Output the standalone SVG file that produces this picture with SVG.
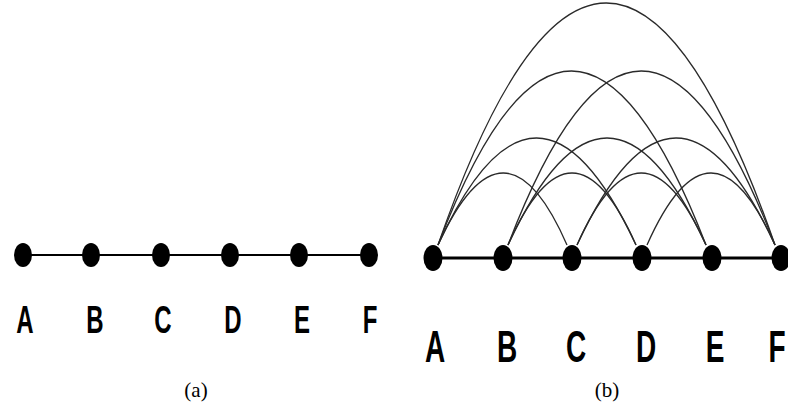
<svg xmlns="http://www.w3.org/2000/svg" width="788" height="407" viewBox="0 0 788 407">
<style>
.node{fill:#000}
.edge{stroke:#000;stroke-width:2;fill:none}
.arc{stroke:#2a2a2a;stroke-width:1.3;fill:none}
.lbl{font-family:"Liberation Sans",Arial,sans-serif;font-weight:bold;font-size:24px;text-anchor:middle;fill:#000}
.lbl2{font-family:"Liberation Sans",Arial,sans-serif;font-weight:bold;font-size:28px;text-anchor:middle;fill:#000}
.cap{font-family:"Liberation Serif","Times New Roman",serif;font-size:21px;text-anchor:middle;fill:#000}
</style>
<rect width="788" height="407" fill="#fff"/>
<g id="connectors">
<line class="edge" x1="23" y1="255" x2="369" y2="255"/>
<line class="edge" x1="433" y1="258" x2="781" y2="258" style="stroke-width:3"/>
<path class="arc" d="M438,245 Q504,101 567,245"/>
<path class="arc" d="M438,245 Q536,31 636,245"/>
<path class="arc" d="M438,245 Q571,-103 706,245"/>
<path class="arc" d="M438,245 Q606,-239 775,245"/>
<path class="arc" d="M508,245 Q572,101 636,245"/>
<path class="arc" d="M508,245 Q607,31 706,245"/>
<path class="arc" d="M508,245 Q641,-103 775,245"/>
<path class="arc" d="M577,245 Q641,101 706,245"/>
<path class="arc" d="M577,245 Q676,31 775,245"/>
<path class="arc" d="M647,245 Q711,101 775,245"/>
</g>
<g id="a-A"><ellipse class="node" cx="23" cy="255" rx="9" ry="12"/><text class="lbl" transform="translate(25,333) scale(1,1.63)">A</text></g>
<g id="a-B"><ellipse class="node" cx="91" cy="255" rx="9" ry="12"/><text class="lbl" transform="translate(95,333) scale(1,1.63)">B</text></g>
<g id="a-C"><ellipse class="node" cx="161" cy="255" rx="9" ry="12"/><text class="lbl" transform="translate(163,333) scale(1,1.63)">C</text></g>
<g id="a-D"><ellipse class="node" cx="230" cy="255" rx="9" ry="12"/><text class="lbl" transform="translate(233,333) scale(1,1.63)">D</text></g>
<g id="a-E"><ellipse class="node" cx="299" cy="255" rx="9" ry="12"/><text class="lbl" transform="translate(302,333) scale(1,1.63)">E</text></g>
<g id="a-F"><ellipse class="node" cx="369" cy="255" rx="9" ry="12"/><text class="lbl" transform="translate(370,333) scale(1,1.63)">F</text></g>
<g id="b-A"><ellipse class="node" cx="433" cy="258" rx="9.5" ry="13"/><text class="lbl2" transform="translate(435,362) scale(1,1.6)">A</text></g>
<g id="b-B"><ellipse class="node" cx="503" cy="258" rx="9.5" ry="13"/><text class="lbl2" transform="translate(507,362) scale(1,1.6)">B</text></g>
<g id="b-C"><ellipse class="node" cx="572" cy="258" rx="9.5" ry="13"/><text class="lbl2" transform="translate(576,362) scale(1,1.6)">C</text></g>
<g id="b-D"><ellipse class="node" cx="642" cy="258" rx="9.5" ry="13"/><text class="lbl2" transform="translate(646,362) scale(1,1.6)">D</text></g>
<g id="b-E"><ellipse class="node" cx="712" cy="258" rx="9.5" ry="13"/><text class="lbl2" transform="translate(715,362) scale(1,1.6)">E</text></g>
<g id="b-F"><ellipse class="node" cx="781" cy="258" rx="9.5" ry="13"/><text class="lbl2" transform="translate(777,362) scale(1,1.6)">F</text></g>
<text class="cap" x="196" y="397">(a)</text>
<text class="cap" x="607" y="397">(b)</text>
</svg>
